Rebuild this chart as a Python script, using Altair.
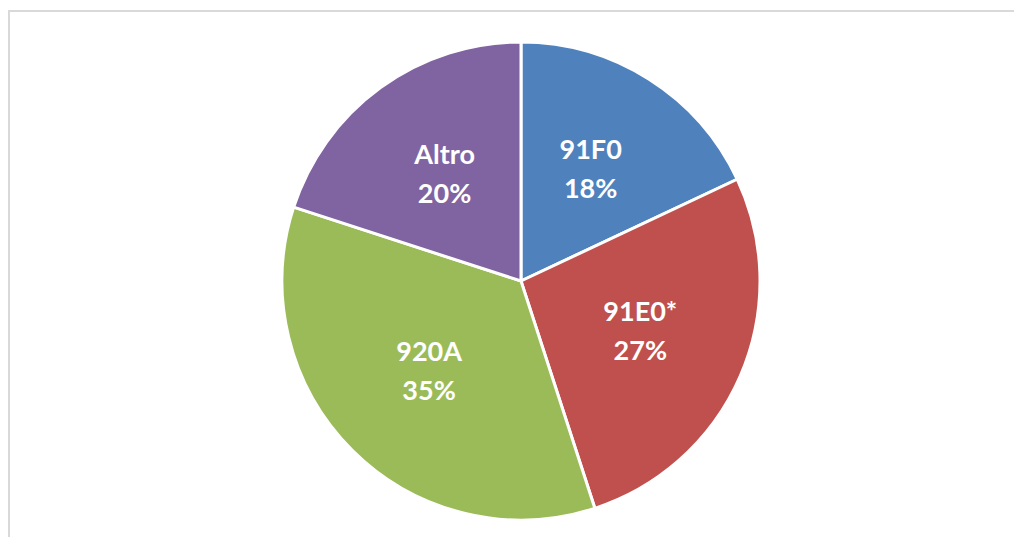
import altair as alt
import pandas as pd

categories = ["91F0", "91E0*", "920A", "Altro"]
values = [18, 27, 35, 20]
labels = ["18%", "27%", "35%", "20%"]
colors = ["#4F81BD", "#C0504D", "#9BBB59", "#8064A2"]

df = pd.DataFrame({
    "cat": categories,
    "val": values,
    "pct": labels,
    "ord": list(range(len(categories))),
})
df["label"] = df["cat"] + "\n" + df["pct"]

W, H = 980, 500

base = alt.Chart(df).encode(
    theta=alt.Theta("val:Q", stack=True),
    order=alt.Order("ord:Q"),
)

pie = base.mark_arc(outerRadius=239, stroke="white", strokeWidth=3).encode(
    color=alt.Color("cat:N", scale=alt.Scale(domain=categories, range=colors), legend=None)
)

text = base.mark_text(
    radius=130, font="Lato", fontSize=27, fontWeight="bold", color="white",
    lineBreak="\n", lineHeight=39, align="center", baseline="middle", dy=-20
).encode(text="label:N")

frame_left = alt.Chart(df).mark_rule(color="#d9d9d9", strokeWidth=2).encode(
    x=alt.value(-22), y=alt.value(-20), y2=alt.value(H + 6)
)
frame_top = alt.Chart(df).mark_rule(color="#d9d9d9", strokeWidth=2).encode(
    x=alt.value(-23), x2=alt.value(W + 3), y=alt.value(-20)
)

chart = alt.layer(frame_left, frame_top, pie, text).properties(
    width=W, height=H,
    padding={"left": 23, "top": 23, "right": 3, "bottom": 6},
    autosize=alt.AutoSizeParams(type="none"),
    background="white",
).configure_view(stroke=None)

chart.save("out.html", embed_options={"renderer": "svg", "actions": False})
